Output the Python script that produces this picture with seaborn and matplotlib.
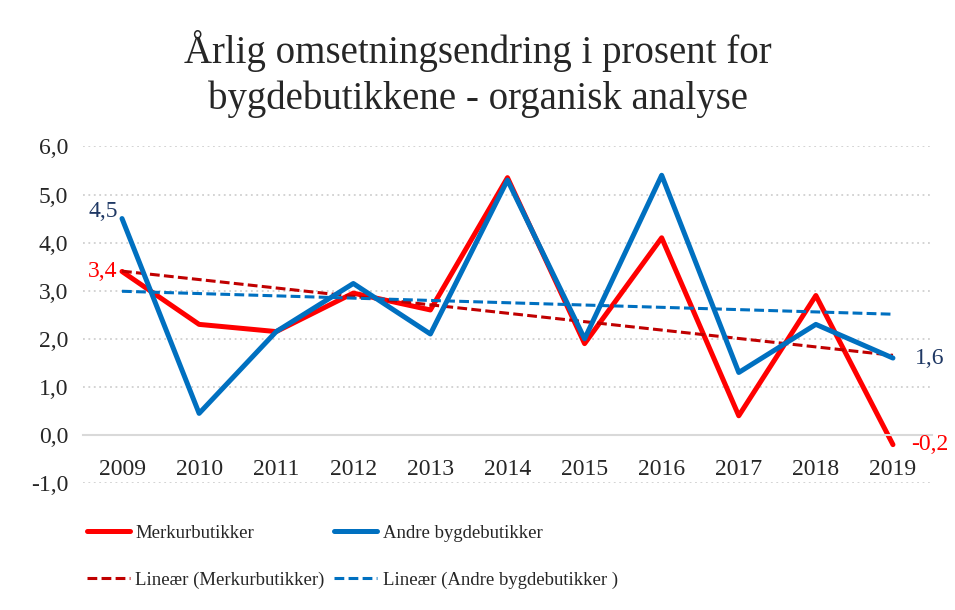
import numpy as np
import matplotlib
matplotlib.use("Agg")
import matplotlib.pyplot as plt
import seaborn as sns

years = [2009, 2010, 2011, 2012, 2013, 2014, 2015, 2016, 2017, 2018, 2019]
merkur = [3.4, 2.3, 2.15, 2.95, 2.6, 5.35, 1.9, 4.1, 0.4, 2.9, -0.2]
andre = [4.5, 0.45, 2.15, 3.15, 2.1, 5.3, 2.0, 5.4, 1.3, 2.3, 1.6]

title = "Årlig omsetningsendring i prosent for\nbygdebutikkene - organisk analyse"
yticks = [-1, 0, 1, 2, 3, 4, 5, 6]

RED = "#FF0000"
BLUE = "#0070C0"
DARKRED = "#C00000"
NAVY = "#1F3864"

sns.set_style("white")
plt.rcParams["font.family"] = ["Liberation Serif", "DejaVu Serif"]

fig = plt.figure(figsize=(9.55, 6.1), dpi=100)
ax = fig.add_axes([0.0874, 0.208, 0.888, 0.552])

# linear trend lines (like Excel's "Lineær")
trend_m = np.polyval(np.polyfit(years, merkur, 1), years)
trend_a = np.polyval(np.polyfit(years, andre, 1), years)

sns.lineplot(x=years, y=merkur, color=RED, linewidth=3.6, label="Merkurbutikker", ax=ax)
sns.lineplot(x=years, y=trend_m, color=DARKRED, linewidth=2.2, linestyle=(0, (3.2, 1.4)),
             label="Lineær (Merkurbutikker)", ax=ax)
sns.lineplot(x=years, y=andre, color=BLUE, linewidth=3.6, label="Andre bygdebutikker", ax=ax)
sns.lineplot(x=years, y=trend_a, color=BLUE, linewidth=2.2, linestyle=(0, (3.2, 1.4)),
             label="Lineær (Andre bygdebutikker )", ax=ax)

ax.set_xlim(years[0] - 0.5, years[-1] + 0.5)
ax.set_ylim(-1, 6)
ax.set_yticks(yticks)
ax.set_yticklabels([f"{v:.1f}".replace(".", ",") for v in yticks])
ax.set_xticks(years)
ax.set_xticklabels([str(y) for y in years])
ax.tick_params(axis="both", length=0, labelsize=17)
ax.tick_params(axis="y", pad=11)
ax.tick_params(axis="x", pad=17)

ax.yaxis.grid(True, color="#D0D0D0", linestyle=(0, (1, 2)), linewidth=1.3)
ax.set_axisbelow(True)
for s in ["left", "top", "right"]:
    ax.spines[s].set_visible(False)
ax.spines["bottom"].set_position(("data", 0))
ax.spines["bottom"].set_color("#D9D9D9")
ax.spines["bottom"].set_linewidth(1.5)

def fmt(v):
    return f"{v:.1f}".replace(".", ",")

ax.annotate(fmt(andre[0]), (years[0], andre[0]), xytext=(-3, 5), textcoords="offset points",
            ha="right", va="center", color=NAVY, fontsize=17)
ax.annotate(fmt(merkur[0]), (years[0], merkur[0]), xytext=(-3, 0), textcoords="offset points",
            ha="right", va="center", color=RED, fontsize=17)
ax.annotate(fmt(andre[-1]), (years[-1], andre[-1]), xytext=(16, 0), textcoords="offset points",
            ha="left", va="center", color=NAVY, fontsize=17)
ax.annotate(fmt(merkur[-1]), (years[-1], merkur[-1]), xytext=(13, 0), textcoords="offset points",
            ha="left", va="center", color=RED, fontsize=17)

fig.text(0.5, 0.879, title, ha="center", va="center", fontsize=28, linespacing=1.3)

h, l = ax.get_legend_handles_labels()
ax.legend(h, l, ncol=2, loc="upper left", bbox_to_anchor=(0.073, 0.168),
          bbox_transform=fig.transFigure, frameon=False,
          fontsize=13.5, handlelength=2.3, handletextpad=0.3, columnspacing=0.5, labelspacing=1.6)

fig.savefig("out.png", dpi=100)
